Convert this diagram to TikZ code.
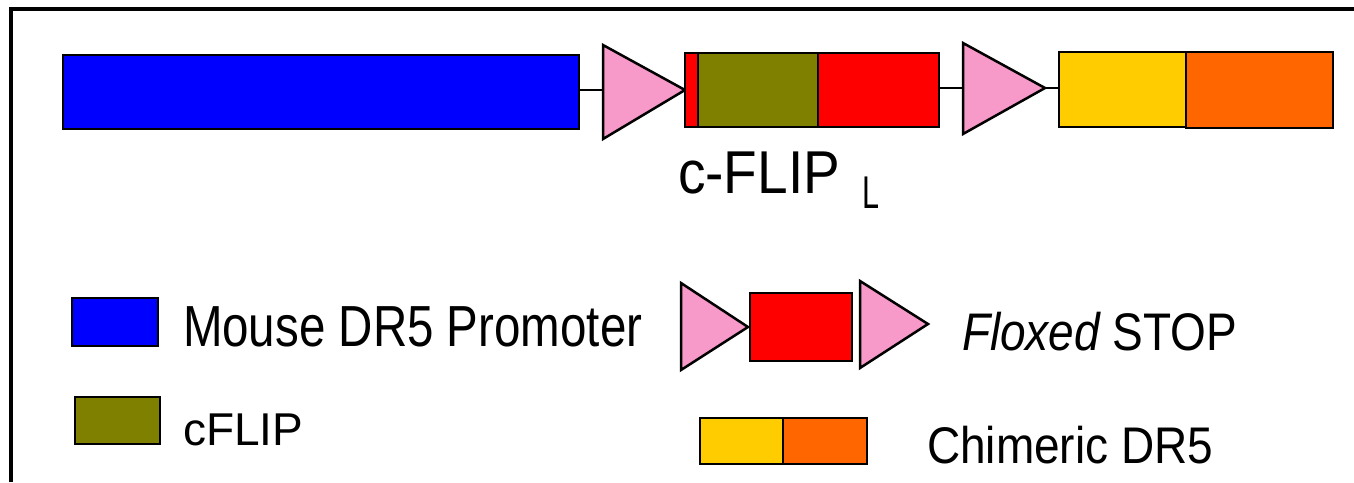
\documentclass[tikz,border=0pt]{standalone}
\usepackage{fontspec}
\usepackage{graphicx}
\setmainfont{Liberation Sans}
\definecolor{cpink}{HTML}{F799C9}
\definecolor{colive}{HTML}{808000}
\definecolor{cred}{HTML}{FF0000}
\definecolor{cblue}{HTML}{0000FF}
\definecolor{cyellow}{HTML}{FFCC00}
\definecolor{corange}{HTML}{FF6600}
\begin{document}
\begin{tikzpicture}[x=1pt,y=-1pt,
  box/.style={draw=black, line width=2.5pt, inner sep=0pt, outer sep=0pt, anchor=north west, rectangle},
  tri/.style={draw=black, line width=2.5pt, fill=cpink, line join=miter},
  link/.style={draw=black, line width=2.5pt},
  lab/.style={anchor=base west, inner sep=0pt, outer sep=0pt, font=\fontsize{46}{50}\selectfont}]
\useasboundingbox (0,0) rectangle (1354,482);
\draw[line width=4pt] (10.5,482) -- (10.5,9) -- (1354,9);

% main construct
\node[box, fill=cblue, minimum width=516pt, minimum height=74pt] (prom) at (63,55) {};
\coordinate (t1b) at (603,90);
\coordinate (t1t) at (685,90);
\draw[tri] (603,45) -- (t1t) -- (603,139) -- cycle;
\node[box, fill=cred, minimum width=13pt, minimum height=74pt] (stripe) at (685,53) {};
\node[box, fill=colive, minimum width=120pt, minimum height=74pt] (flip) at (698,53) {};
\node[box, fill=cred, minimum width=121pt, minimum height=74pt] (stop) at (818,53) {};
\coordinate (t2b) at (963,88);
\coordinate (t2t) at (1045,88);
\draw[tri] (963,43) -- (t2t) -- (963,134) -- cycle;
\node[box, fill=cyellow, minimum width=127pt, minimum height=75pt] (dra) at (1059,52) {};
\node[box, fill=corange, minimum width=147pt, minimum height=76pt] (drb) at (1186,52) {};
\draw[link] (prom.east |- t1b) -- (t1b);
\draw[link] (stop.east |- t2b) -- (t2b);
\draw[link] (t2t) -- (dra.west |- t2t);

\node[lab, font=\fontsize{55}{60}\selectfont] (cflipl) at (678,193) {\scalebox{1}[1.1]{c-FLIP}};
\node[lab, font=\fontsize{34}{38}\selectfont] (sub) at (862,208) {\scalebox{0.9}[1.35]{L}};

% legend
\node[box, fill=cblue, minimum width=86pt, minimum height=48pt] (lprom) at (72,298) {};
\node[lab, font=\fontsize{47.5}{50}\selectfont] (tprom) at (183,346) {\scalebox{1}[1.22]{Mouse DR5 Promoter}};
\node[box, fill=colive, minimum width=85pt, minimum height=47pt] (lflip) at (75,397) {};
\node[lab] (tflip) at (183,445) {cFLIP};

\draw[tri] (681,283) -- (748,327) -- (681,370) -- cycle;
\node[box, fill=cred, minimum width=102pt, minimum height=68pt] (lstop) at (750,293) {};
\draw[tri] (860,281) -- (928,324) -- (860,368) -- cycle;
\node[lab] (tstop) at (962,350) {\scalebox{1}[1.15]{\itshape Floxed\upshape{} STOP}};

\node[box, fill=cyellow, minimum width=83pt, minimum height=46pt] (lya) at (700,418) {};
\node[box, fill=corange, minimum width=84pt, minimum height=46pt] (lyb) at (783,418) {};
\node[lab] (tchim) at (927,463) {\scalebox{1}[1.12]{Chimeric DR5}};
\end{tikzpicture}
\end{document}
